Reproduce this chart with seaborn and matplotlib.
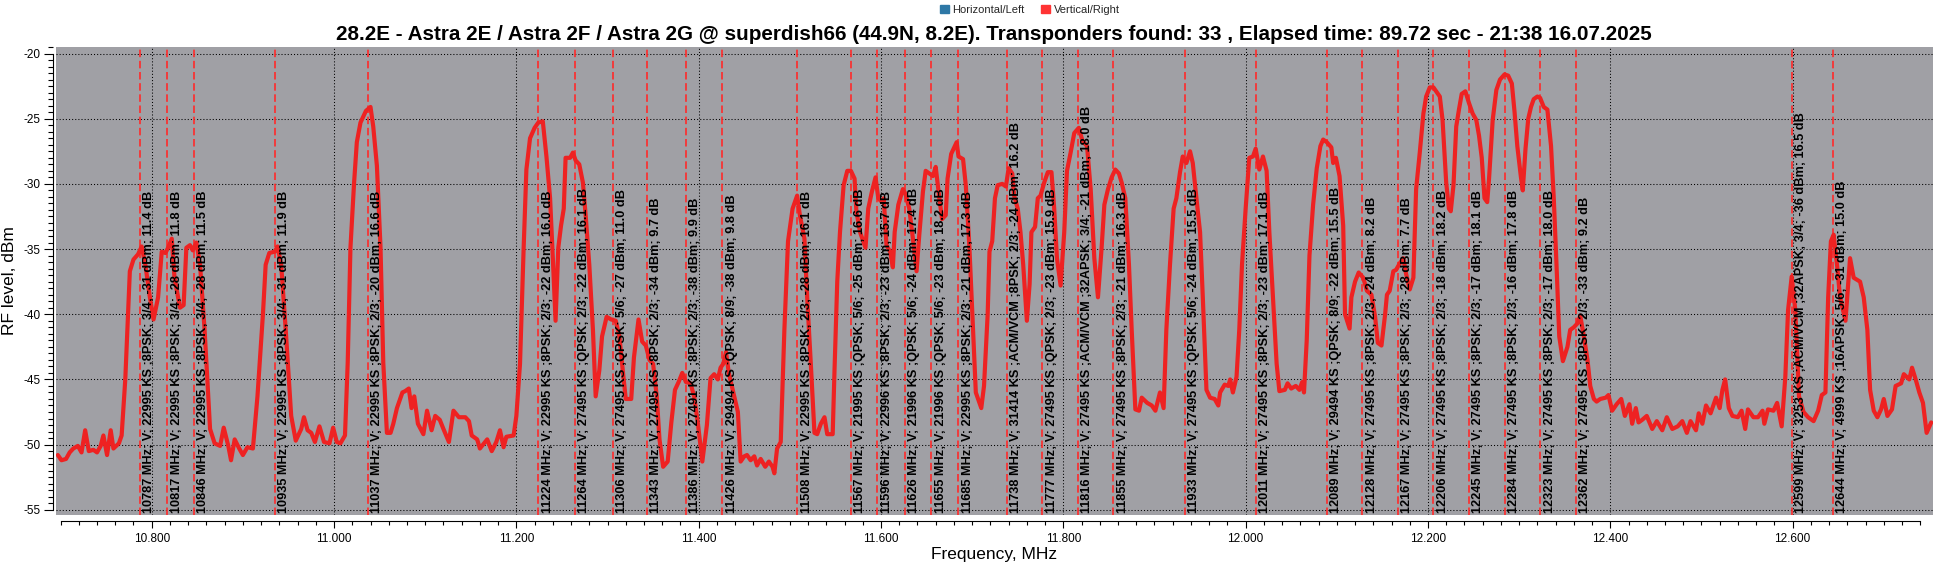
import matplotlib
matplotlib.use('Agg')
import matplotlib.pyplot as plt
import seaborn as sns
import numpy as np
import pandas as pd
from matplotlib.ticker import MultipleLocator, FuncFormatter
from matplotlib.patches import Patch

# spectrum trace (vertical/right polarisation), MHz vs dBm
freq_mhz = [10697, 10701, 10706, 10710, 10714, 10719, 10723, 10727, 10731, 10736, 10740, 10744, 10747, 10751,
            10755, 10758, 10764, 10767, 10771, 10776, 10780, 10785, 10789, 10793, 10798, 10802, 10807, 10811,
            10815, 10818, 10822, 10825, 10831, 10835, 10838, 10842, 10845, 10849, 10853, 10858, 10864, 10869,
            10875, 10879, 10884, 10887, 10891, 10896, 10900, 10905, 10911, 10916, 10922, 10925, 10929, 10935,
            10938, 10942, 10947, 10953, 10958, 10964, 10967, 10971, 10975, 10979, 10984, 10989, 10995, 10999,
            11003, 11007, 11012, 11015, 11018, 11022, 11025, 11029, 11035, 11040, 11043, 11047, 11051, 11054,
            11058, 11062, 11065, 11069, 11075, 11078, 11082, 11085, 11088, 11092, 11098, 11102, 11107, 11111,
            11116, 11120, 11126, 11131, 11137, 11144, 11148, 11151, 11157, 11160, 11168, 11173, 11178, 11182,
            11186, 11189, 11197, 11200, 11204, 11208, 11211, 11215, 11220, 11224, 11229, 11233, 11237, 11240,
            11243, 11246, 11249, 11252, 11254, 11259, 11262, 11265, 11269, 11273, 11276, 11280, 11284, 11287,
            11291, 11294, 11299, 11304, 11309, 11313, 11317, 11320, 11326, 11329, 11334, 11338, 11342, 11346,
            11350, 11354, 11357, 11361, 11366, 11370, 11374, 11378, 11382, 11386, 11391, 11395, 11399, 11404,
            11409, 11413, 11417, 11421, 11424, 11427, 11430, 11433, 11439, 11443, 11446, 11450, 11453, 11457,
            11461, 11464, 11468, 11473, 11477, 11481, 11483, 11486, 11490, 11494, 11498, 11503, 11508, 11511,
            11516, 11519, 11523, 11527, 11530, 11534, 11538, 11541, 11547, 11549, 11552, 11555, 11559, 11563,
            11567, 11571, 11573, 11577, 11583, 11586, 11590, 11594, 11597, 11601, 11603, 11606, 11610, 11613,
            11615, 11619, 11624, 11627, 11631, 11635, 11639, 11642, 11646, 11649, 11653, 11657, 11660, 11664,
            11667, 11671, 11673, 11677, 11683, 11685, 11690, 11693, 11697, 11701, 11704, 11710, 11713, 11717,
            11719, 11722, 11725, 11728, 11733, 11737, 11740, 11744, 11746, 11750, 11753, 11756, 11760, 11763,
            11765, 11769, 11772, 11775, 11779, 11783, 11787, 11790, 11793, 11797, 11801, 11804, 11808, 11812,
            11817, 11821, 11826, 11830, 11834, 11838, 11842, 11845, 11849, 11853, 11857, 11861, 11864, 11868,
            11872, 11875, 11879, 11883, 11886, 11892, 11897, 11901, 11906, 11910, 11913, 11917, 11921, 11924,
            11928, 11931, 11935, 11939, 11942, 11946, 11950, 11953, 11957, 11961, 11966, 11970, 11972, 11977,
            11981, 11983, 11986, 11990, 11993, 11996, 12000, 12004, 12008, 12011, 12015, 12019, 12023, 12026,
            12030, 12034, 12037, 12043, 12046, 12050, 12055, 12059, 12062, 12064, 12067, 12070, 12074, 12078,
            12082, 12085, 12089, 12094, 12096, 12099, 12103, 12107, 12109, 12114, 12116, 12120, 12124, 12129,
            12133, 12138, 12142, 12145, 12149, 12153, 12155, 12158, 12162, 12165, 12169, 12173, 12176, 12180,
            12184, 12187, 12191, 12195, 12198, 12202, 12206, 12209, 12213, 12216, 12220, 12223, 12225, 12228,
            12231, 12234, 12237, 12241, 12245, 12249, 12253, 12256, 12259, 12262, 12265, 12267, 12271, 12275,
            12279, 12284, 12288, 12292, 12295, 12298, 12302, 12304, 12307, 12310, 12313, 12316, 12320, 12323,
            12327, 12331, 12335, 12338, 12341, 12344, 12348, 12353, 12356, 12360, 12364, 12367, 12371, 12375,
            12378, 12382, 12385, 12389, 12395, 12398, 12402, 12407, 12412, 12416, 12421, 12424, 12428, 12431,
            12435, 12440, 12446, 12451, 12457, 12462, 12468, 12474, 12479, 12484, 12488, 12494, 12497, 12501,
            12505, 12510, 12516, 12520, 12523, 12526, 12530, 12534, 12540, 12544, 12548, 12551, 12557, 12562,
            12567, 12569, 12573, 12579, 12583, 12588, 12592, 12595, 12599, 12603, 12607, 12612, 12617, 12623,
            12628, 12632, 12636, 12639, 12642, 12645, 12649, 12652, 12658, 12663, 12667, 12674, 12678, 12682,
            12685, 12689, 12693, 12697, 12700, 12704, 12709, 12713, 12719, 12722, 12728, 12731, 12735, 12739,
            12743, 12747, 12752]
level_dbm = [-50.8, -51.2, -51.1, -50.6, -50.3, -50.1, -50.6, -48.9, -50.5, -50.4, -50.6, -50.1, -49.3, -50.8,
             -48.9, -50.3, -49.9, -49.3, -45.0, -36.7, -35.8, -35.4, -34.8, -36.2, -38.7, -40.4, -38.7, -35.2,
             -35.3, -34.9, -34.2, -37.2, -39.5, -39.3, -34.9, -34.7, -35.1, -34.5, -36.2, -41.2, -48.8, -49.9,
             -50.1, -48.7, -50.1, -51.2, -49.6, -50.3, -50.8, -50.2, -50.3, -46.3, -40.0, -36.2, -35.3, -35.2,
             -34.8, -36.2, -41.2, -47.8, -49.7, -48.8, -47.9, -48.9, -49.1, -49.8, -48.6, -49.8, -49.9, -48.7,
             -49.8, -49.9, -49.3, -43.7, -34.9, -29.9, -26.8, -25.3, -24.4, -24.1, -25.6, -28.6, -34.9, -43.7,
             -49.1, -49.1, -48.4, -47.2, -46.0, -45.9, -45.7, -47.2, -46.3, -48.4, -49.2, -47.4, -48.9, -47.8,
             -48.1, -48.8, -49.8, -47.4, -47.9, -47.9, -48.2, -49.3, -49.6, -50.3, -49.6, -50.5, -49.8, -48.9,
             -50.2, -49.4, -49.3, -47.8, -43.8, -34.9, -28.9, -26.5, -25.7, -25.3, -25.2, -27.9, -31.1, -35.7,
             -40.5, -34.9, -33.2, -31.9, -28.0, -28.0, -27.6, -28.2, -28.5, -29.9, -32.4, -36.2, -41.2, -46.3,
             -44.3, -41.7, -40.2, -40.4, -40.5, -41.7, -44.5, -46.5, -46.5, -43.3, -40.4, -42.1, -42.4, -43.5,
             -43.8, -46.3, -49.6, -51.7, -51.3, -48.3, -45.8, -45.2, -44.5, -45.2, -45.3, -46.3, -48.3, -51.3,
             -48.5, -44.9, -44.6, -45.0, -44.1, -43.8, -42.9, -44.5, -46.3, -47.5, -51.3, -50.9, -50.8, -51.2,
             -50.9, -51.6, -51.1, -51.7, -51.3, -51.7, -52.2, -50.3, -49.8, -41.2, -34.4, -31.9, -30.9, -32.4,
             -34.2, -38.7, -43.8, -49.1, -49.2, -48.4, -47.9, -49.2, -49.2, -44.3, -37.5, -33.7, -30.1, -29.0,
             -29.0, -29.6, -32.1, -33.7, -34.9, -31.9, -30.6, -29.5, -31.1, -31.4, -31.1, -34.7, -35.2, -36.4,
             -33.7, -31.6, -30.4, -30.8, -31.9, -34.2, -36.7, -33.9, -30.6, -29.0, -29.2, -29.4, -28.7, -31.1,
             -32.7, -32.4, -29.6, -27.7, -26.8, -27.9, -28.1, -30.1, -34.9, -41.2, -46.0, -47.2, -45.5, -40.0,
             -35.2, -34.4, -31.1, -30.1, -30.0, -30.2, -28.8, -29.2, -30.9, -31.9, -33.7, -36.2, -40.5, -37.7,
             -33.7, -33.3, -31.1, -30.9, -29.9, -29.1, -29.1, -31.9, -35.7, -37.8, -33.7, -29.0, -27.6, -26.1,
             -25.7, -26.7, -27.1, -30.4, -35.7, -38.7, -34.9, -31.6, -30.4, -29.5, -28.9, -29.2, -29.9, -31.1,
             -36.2, -41.2, -47.3, -47.4, -46.4, -46.8, -47.0, -47.4, -46.0, -47.2, -41.2, -36.2, -31.9, -31.1,
             -29.1, -27.9, -28.4, -27.5, -28.4, -31.1, -33.7, -38.7, -45.8, -46.4, -46.5, -47.0, -46.0, -45.4,
             -45.5, -45.0, -46.0, -44.8, -41.2, -36.2, -31.9, -28.0, -27.9, -27.3, -28.9, -27.9, -29.0, -33.7,
             -38.7, -43.8, -45.9, -45.8, -45.3, -45.7, -45.5, -45.8, -45.2, -46.0, -42.0, -35.5, -31.6, -28.8,
             -27.1, -26.6, -26.8, -27.2, -28.4, -28.0, -29.4, -33.2, -40.0, -41.1, -38.7, -37.5, -36.8, -37.2,
             -38.2, -38.5, -40.2, -42.2, -42.4, -40.0, -38.5, -38.2, -36.7, -36.6, -36.1, -35.7, -36.9, -38.1,
             -37.2, -30.4, -27.6, -24.6, -23.3, -22.6, -22.6, -22.9, -23.3, -25.1, -29.9, -31.9, -32.1, -30.1,
             -25.6, -24.3, -23.1, -22.9, -23.8, -24.6, -25.1, -26.3, -28.0, -31.1, -31.4, -29.6, -25.1, -22.8,
             -22.0, -21.6, -21.7, -22.3, -24.5, -27.1, -29.5, -30.5, -27.3, -25.0, -24.1, -23.5, -23.3, -23.4,
             -24.1, -24.3, -27.1, -31.1, -36.2, -41.7, -43.6, -42.5, -41.2, -41.0, -40.7, -40.1, -41.7, -43.5,
             -45.5, -46.5, -46.7, -46.5, -46.4, -46.2, -47.4, -46.9, -46.5, -47.8, -46.9, -48.4, -47.2, -48.3,
             -48.1, -47.8, -48.8, -48.2, -48.9, -47.9, -48.8, -48.6, -48.2, -49.1, -48.2, -48.9, -47.6, -48.4,
             -47.0, -47.6, -46.4, -47.2, -45.8, -45.0, -47.2, -47.8, -47.9, -47.4, -48.8, -47.3, -47.9, -47.9,
             -47.4, -48.4, -47.3, -47.4, -46.8, -48.6, -44.8, -39.7, -37.1, -39.7, -46.3, -47.5, -47.9, -48.2,
             -47.4, -46.2, -46.0, -38.7, -34.4, -33.9, -36.4, -38.7, -40.5, -35.7, -37.2, -37.5, -38.7, -41.2,
             -45.8, -47.4, -47.9, -47.3, -46.5, -47.8, -47.3, -45.5, -45.3, -44.6, -45.0, -44.1, -45.0, -46.0,
             -46.8, -49.1, -48.3]

# transponders found (marker position + label)
tp_freq = [10787, 10817, 10846, 10935, 11037, 11224, 11264, 11306, 11343, 11386, 11426, 11508, 11567,
           11596, 11626, 11655, 11685, 11738, 11777, 11816, 11855, 11933, 12011, 12089, 12128, 12167,
           12206, 12245, 12284, 12323, 12362, 12599, 12644]
tp_info = [
    "10787 MHz; V; 22995 KS ;8PSK; 3/4; -31 dBm; 11.4 dB",
    "10817 MHz; V; 22995 KS ;8PSK; 3/4; -28 dBm; 11.8 dB",
    "10846 MHz; V; 22995 KS ;8PSK; 3/4; -28 dBm; 11.5 dB",
    "10935 MHz; V; 22995 KS ;8PSK; 3/4; -31 dBm; 11.9 dB",
    "11037 MHz; V; 22995 KS ;8PSK; 2/3; -20 dBm; 16.6 dB",
    "11224 MHz; V; 22995 KS ;8PSK; 2/3; -22 dBm; 16.0 dB",
    "11264 MHz; V; 27495 KS ;QPSK; 2/3; -22 dBm; 16.1 dB",
    "11306 MHz; V; 27495 KS ;QPSK; 5/6; -27 dBm; 11.0 dB",
    "11343 MHz; V; 27495 KS ;8PSK; 2/3; -34 dBm; 9.7 dB",
    "11386 MHz; V; 27491 KS ;8PSK; 2/3; -38 dBm; 9.9 dB",
    "11426 MHz; V; 29494 KS ;QPSK; 8/9; -38 dBm; 9.8 dB",
    "11508 MHz; V; 22995 KS ;8PSK; 2/3; -28 dBm; 16.1 dB",
    "11567 MHz; V; 21995 KS ;QPSK; 5/6; -25 dBm; 16.6 dB",
    "11596 MHz; V; 22996 KS ;8PSK; 2/3; -23 dBm; 15.7 dB",
    "11626 MHz; V; 21996 KS ;QPSK; 5/6; -24 dBm; 17.4 dB",
    "11655 MHz; V; 21996 KS ;QPSK; 5/6; -23 dBm; 18.2 dB",
    "11685 MHz; V; 22995 KS ;8PSK; 2/3; -21 dBm; 17.3 dB",
    "11738 MHz; V; 31414 KS ;ACM/VCM ;8PSK; 2/3; -24 dBm; 16.2 dB",
    "11777 MHz; V; 27495 KS ;QPSK; 2/3; -23 dBm; 15.9 dB",
    "11816 MHz; V; 27495 KS ;ACM/VCM ;32APSK; 3/4; -21 dBm; 18.0 dB",
    "11855 MHz; V; 27495 KS ;8PSK; 2/3; -21 dBm; 16.3 dB",
    "11933 MHz; V; 27495 KS ;QPSK; 5/6; -24 dBm; 15.5 dB",
    "12011 MHz; V; 27495 KS ;8PSK; 2/3; -23 dBm; 17.1 dB",
    "12089 MHz; V; 29494 KS ;QPSK; 8/9; -22 dBm; 15.5 dB",
    "12128 MHz; V; 27495 KS ;8PSK; 2/3; -24 dBm; 8.2 dB",
    "12167 MHz; V; 27495 KS ;8PSK; 2/3; -28 dBm; 7.7 dB",
    "12206 MHz; V; 27495 KS ;8PSK; 2/3; -18 dBm; 18.2 dB",
    "12245 MHz; V; 27495 KS ;8PSK; 2/3; -17 dBm; 18.1 dB",
    "12284 MHz; V; 27495 KS ;8PSK; 2/3; -16 dBm; 17.8 dB",
    "12323 MHz; V; 27495 KS ;8PSK; 2/3; -17 dBm; 18.0 dB",
    "12362 MHz; V; 27495 KS ;8PSK; 2/3; -33 dBm; 9.2 dB",
    "12599 MHz; V; 3253 KS ;ACM/VCM ;32APSK; 3/4; -36 dBm; 16.5 dB",
    "12644 MHz; V; 4999 KS ;16APSK; 5/6; -31 dBm; 15.0 dB",
]

title = ("28.2E - Astra 2E / Astra 2F / Astra 2G @ superdish66 (44.9N, 8.2E). "
         "Transponders found: 33 , Elapsed time: 89.72 sec - 21:38 16.07.2025")
legend_labels = ["Horizontal/Left", "Vertical/Right"]

df = pd.DataFrame({"freq": freq_mhz, "level": level_dbm})

sns.set_theme(style="ticks")
plt.rcParams['font.family'] = ['Liberation Sans', 'DejaVu Sans']
plt.rcParams['axes.unicode_minus'] = False
# condensed faces if they exist, else plain Liberation Sans
narrow = ['Liberation Sans Narrow', 'Noto Sans Condensed', 'DejaVu Sans Condensed', 'Liberation Sans']

W, H = 1935, 567
fig = plt.figure(figsize=(W / 100, H / 100), dpi=100)
fig.patch.set_facecolor('white')
# plot area in pixels: x 56..1933, y 47..515
ax = fig.add_axes([56 / W, 1 - 515 / H, 1877 / W, 468 / H])
ax.set_facecolor('#a0a0a5')

rend = fig.canvas.get_renderer()
def fit_size(text, target_px, **kw):
    t = fig.text(0, 0, text, fontsize=10, **kw)
    w = t.get_window_extent(renderer=rend).width
    t.remove()
    return 10 * target_px / w

for f in tp_freq:
    ax.axvline(f, color='#ff2a2a', lw=1.2, ls=(0, (4.5, 2.2)), zorder=1)

sns.lineplot(data=df, x="freq", y="level", ax=ax, color='#ee2222', linewidth=3.0,
             estimator=None, zorder=2)
for line in ax.lines[-1:]:
    line.set_solid_joinstyle('round')

lab_size = fit_size(tp_info[0], 325, family=narrow, weight='bold', stretch='condensed')
for f, s in zip(tp_freq, tp_info):
    ax.annotate(s, xy=(f, -55.25), xytext=(2.5, 0), textcoords='offset points',
                rotation=90, ha='left', va='bottom', fontsize=lab_size,
                family=narrow, weight='bold', stretch='condensed', color='black', zorder=3)

ax.set_xlim(10695, 12754)
ax.set_ylim(-55.4, -19.5)
ax.xaxis.set_major_locator(MultipleLocator(200))
ax.xaxis.set_minor_locator(MultipleLocator(20))
ax.yaxis.set_major_locator(MultipleLocator(5))
ax.yaxis.set_minor_locator(MultipleLocator(0.5))
ax.xaxis.set_major_formatter(FuncFormatter(lambda v, p: f"{v / 1000:.3f}"))
ax.yaxis.set_major_formatter(FuncFormatter(lambda v, p: f"{v:.0f}"))
ax.tick_params(axis='both', which='major', direction='out', color='black', width=0.8,
               labelsize=8.5, labelcolor='black')
ax.tick_params(axis='y', which='major', length=6.5, pad=2.5)
ax.tick_params(axis='y', which='minor', length=3.5, width=0.8, color='black')
ax.tick_params(axis='x', which='major', length=5, pad=4)
ax.tick_params(axis='x', which='minor', length=3, width=0.8, color='black')

ax.grid(True, which='major', color='black', linestyle=(0, (1, 2)), linewidth=0.75)
ax.set_axisbelow(True)

sns.despine(ax=ax)
ax.spines['left'].set_position(('outward', 2.2))
ax.spines['bottom'].set_position(('outward', 4.3))
ax.spines['left'].set_bounds(-55, -20)
ax.spines['bottom'].set_bounds(10700, 12740)
for sp in ['left', 'bottom']:
    ax.spines[sp].set_color('black')
    ax.spines[sp].set_linewidth(0.8)

ax.set_xlabel("Frequency, MHz", fontsize=12.5, color='black', va='center')
ax.xaxis.set_label_coords(0.5, -0.085)
ax.set_ylabel("RF level, dBm", fontsize=12.5, color='black', va='center')
ax.yaxis.set_label_coords(-46 / 1877, 0.5)

tsize = fit_size(title, 1315, family=narrow, weight='bold', stretch='condensed')
fig.text(994 / W, 1 - 34 / H, title, ha='center', va='center', fontsize=tsize,
         family=narrow, weight='bold', stretch='condensed', color='black')

handles = [Patch(color='#2e78a6'), Patch(color='#ff3333')]
fig.legend(handles, legend_labels, loc='center', bbox_to_anchor=(1030 / W, 1 - 10 / H), ncol=2,
           frameon=False, fontsize=8, handlelength=0.8, handleheight=0.8, handletextpad=0.3,
           columnspacing=1.5, borderpad=0)

fig.savefig('out.png', dpi=100)
